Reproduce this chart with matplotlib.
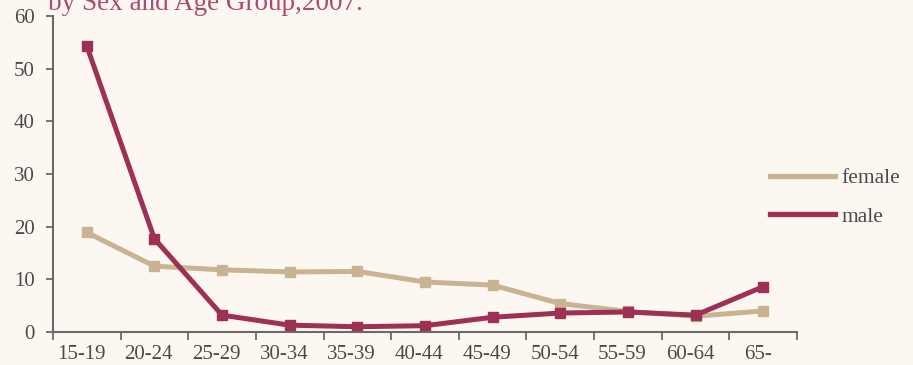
import matplotlib
matplotlib.use("Agg")
import matplotlib.pyplot as plt
import matplotlib.transforms as mtransforms
from matplotlib.lines import Line2D
import numpy as np

# Données
age_groups = ["15-19", "20-24", "25-29", "30-34", "35-39", "40-44",
              "45-49", "50-54", "55-59", "60-64", "65-"]
female = [18.9, 12.5, 11.8, 11.4, 11.5, 9.5, 8.9, 5.4, 3.9, 3.0, 4.0]
male = [54.3, 17.7, 3.2, 1.3, 1.0, 1.2, 2.8, 3.6, 3.8, 3.2, 8.6]
y_ticks = [0, 10, 20, 30, 40, 50, 60]

bg = "#fcf8f1"
female_col = "#c9b393"
male_col = "#9e2f55"
axis_col = "#6a6a6a"
text_col = "#4a4a4a"

plt.rcParams["font.family"] = ["Liberation Serif", "DejaVu Serif"]

fig = plt.figure(figsize=(9.13, 3.65), dpi=100, facecolor=bg)
ax = fig.add_axes([0.058, 0.0904, 0.815, 0.866], facecolor=bg)

x = np.arange(len(age_groups))
ax.plot(x, female, color=female_col, lw=3.6, marker="s", ms=7.5,
        solid_joinstyle="miter")
ax.plot(x, male, color=male_col, lw=3.6, marker="s", ms=7.5,
        solid_joinstyle="miter")

ax.set_xlim(-0.5, len(age_groups) - 0.5)
ax.set_ylim(0, 60)
ax.set_yticks(y_ticks)
ax.set_yticklabels([str(v) for v in y_ticks], fontsize=15, color=text_col)

# ticks aux bornes des catégories, libellés au centre
ax.set_xticks(np.arange(len(age_groups) + 1) - 0.5)
ax.set_xticklabels([])
ax.set_xticks(x, minor=True)
ax.set_xticklabels(age_groups, minor=True, fontsize=15, color=text_col)
ax.tick_params(axis="x", which="minor", length=0, pad=9)
ax.tick_params(axis="x", which="major", length=6, width=1.3, color=axis_col)
ax.tick_params(axis="y", length=5, width=1.3, color=axis_col, pad=8)
shift = mtransforms.ScaledTranslation(-4 / 72, 0, fig.dpi_scale_trans)
for lab in ax.get_xticklabels(minor=True):
    lab.set_transform(lab.get_transform() + shift)

for s in ["top", "right"]:
    ax.spines[s].set_visible(False)
for s in ["left", "bottom"]:
    ax.spines[s].set_color(axis_col)
    ax.spines[s].set_linewidth(1.5)

handles = [Line2D([], [], color=female_col, lw=3.8),
           Line2D([], [], color=male_col, lw=3.8)]
fig.legend(handles, ["female", "male"], loc="center left",
           bbox_to_anchor=(770 / 913, 1 - 197.5 / 365),
           bbox_transform=fig.transFigure, frameon=False,
           fontsize=15.5, handlelength=3.0, handletextpad=0.3,
           labelspacing=0.85, borderpad=0, borderaxespad=0,
           labelcolor=text_col)

fig.text(48 / 913, 1 - 10 / 365, "by Sex and Age Group,2007.", fontsize=19.5,
         color="#ad4a72", va="baseline", ha="left")

fig.savefig("out.png", dpi=100, facecolor=bg)
